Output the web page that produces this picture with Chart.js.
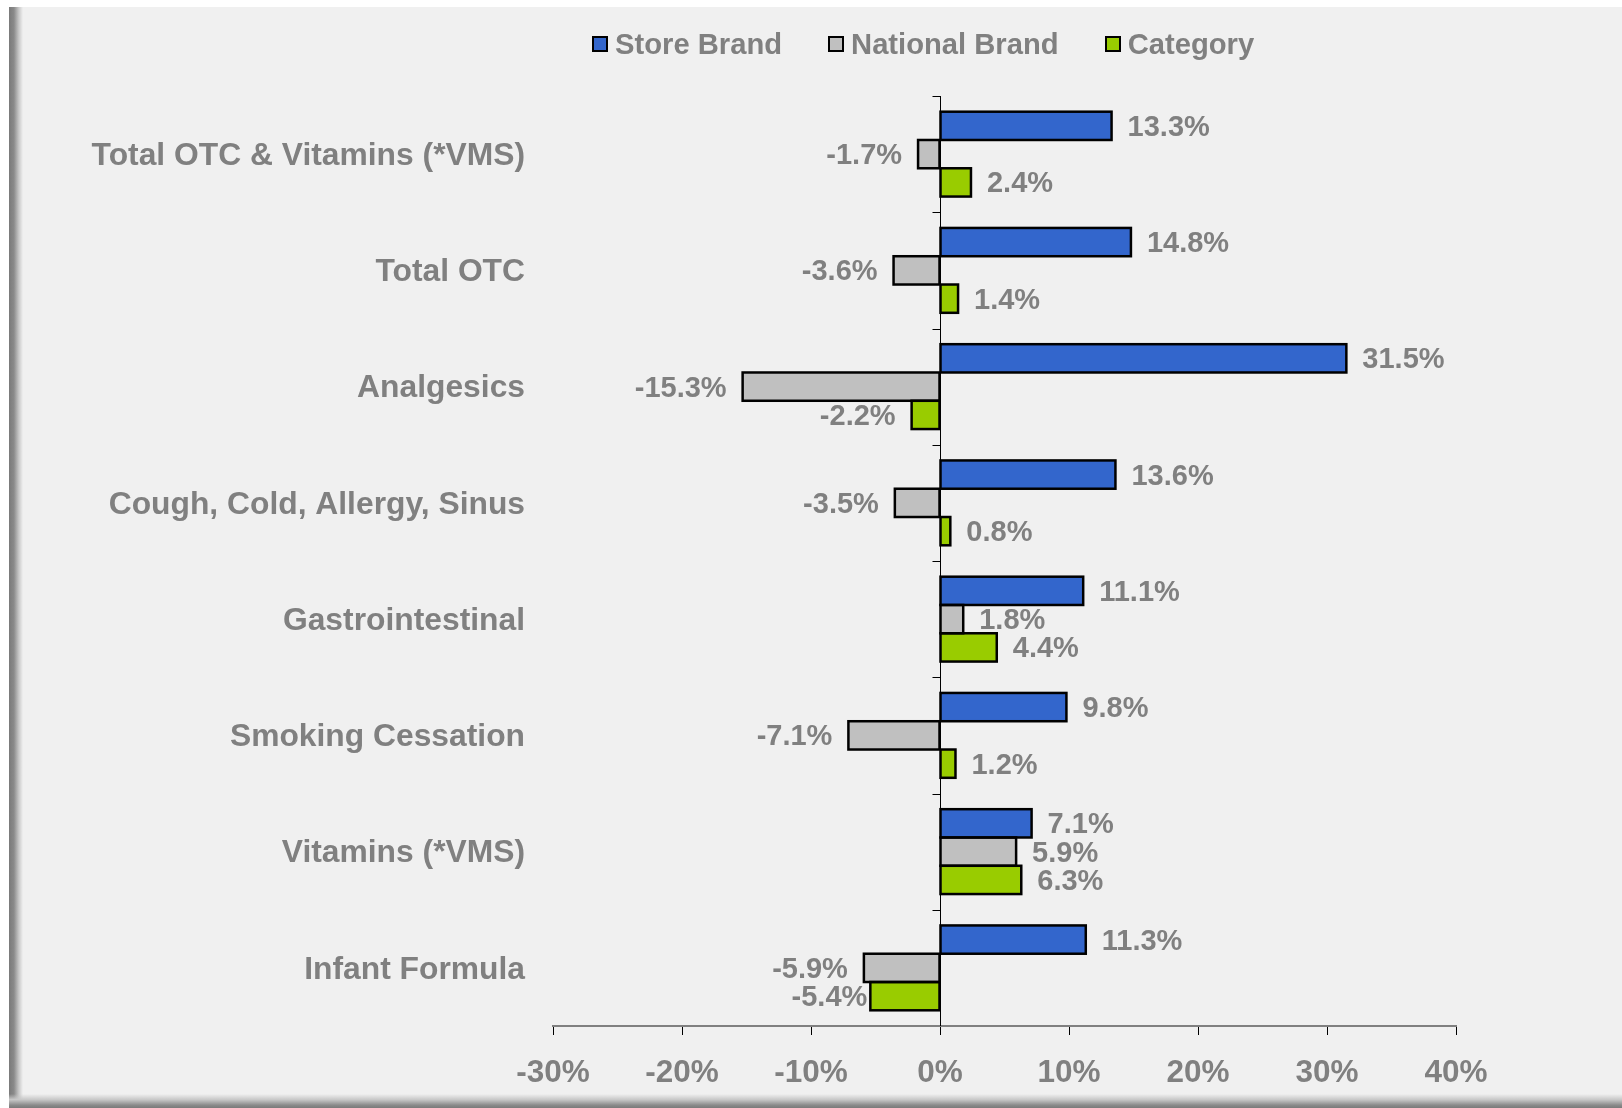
<!DOCTYPE html>
<html>
<head>
<meta charset="utf-8">
<script src="https://cdn.jsdelivr.net/npm/chart.js@4/dist/chart.umd.min.js"></script>
<style>
  html, body { margin: 0; padding: 0; background: #ffffff; }
  body { width: 1622px; height: 1108px; position: relative; overflow: hidden; font-family: "Liberation Sans", Arial, sans-serif; }
  #panel { position: absolute; left: 9px; top: 7px; width: 1613px; height: 1101px; background: #f0f0f0; }
  #shadeL { position: absolute; left: 9px; top: 7px; width: 14px; height: 1101px;
            background: linear-gradient(to right, #7a7a7a 0%, #8a8a8a 35%, #c8c8c8 70%, rgba(240,240,240,0) 100%); }
  #shadeB { position: absolute; left: 9px; top: 1094px; width: 1613px; height: 14px;
            background: linear-gradient(to bottom, rgba(240,240,240,0) 0%, #c8c8c8 40%, #8a8a8a 80%, #7a7a7a 100%); }
  #chart { position: absolute; left: 0; top: 0; }
  #legend { position: absolute; left: 592px; top: 27px; height: 34px; display: flex; align-items: center; gap: 46px;
            font-weight: bold; font-size: 29.2px; color: #808080; white-space: nowrap; }
  .item { display: flex; align-items: center; gap: 7px; }
  .box { width: 12px; height: 12px; border: 2px solid #000; }
</style>
</head>
<body>
<div id="panel"></div>
<div id="shadeL"></div>
<div id="shadeB"></div>
<canvas id="chart" width="1622" height="1108"></canvas>
<div id="legend"></div>
<script>
const categories = ["Total OTC & Vitamins (*VMS)", "Total OTC", "Analgesics", "Cough, Cold, Allergy, Sinus",
                    "Gastrointestinal", "Smoking Cessation", "Vitamins (*VMS)", "Infant Formula"];
const seriesNames = ["Store Brand", "National Brand", "Category"];
const storeBrand    = [13.3, 14.8, 31.5, 13.6, 11.1, 9.8, 7.1, 11.3];
const nationalBrand = [-1.7, -3.6, -15.3, -3.5, 1.8, -7.1, 5.9, -5.9];
const categoryVals  = [2.4, 1.4, -2.2, 0.8, 4.4, 1.2, 6.3, -5.4];
const xTicks = [-30, -20, -10, 0, 10, 20, 30, 40];
const colors = ["#3366CC", "#C0C0C0", "#99CC00"];

const TEXT = "#808080";
const FONT = "'Liberation Sans', Arial, sans-serif";

// HTML legend
const legendEl = document.getElementById('legend');
seriesNames.forEach((n, i) => {
  const it = document.createElement('div'); it.className = 'item';
  const b = document.createElement('div'); b.className = 'box'; b.style.background = colors[i];
  const t = document.createElement('span'); t.textContent = n;
  it.appendChild(b); it.appendChild(t); legendEl.appendChild(it);
});

// label nudges (dataset-index, data-index) -> px closer to bar
const labelNudge = { "2-7": 13 };

const axisPlugin = {
  id: 'zeroAxis',
  beforeDatasetsDraw(chart) {
    const ctx = chart.ctx, xs = chart.scales.x, ys = chart.scales.y, ca = chart.chartArea;
    const x0 = Math.round(xs.getPixelForValue(0)) + 0.5;
    ctx.save();
    ctx.strokeStyle = '#000'; ctx.lineWidth = 1;
    ctx.beginPath(); ctx.moveTo(x0, ca.top); ctx.lineTo(x0, ca.bottom); ctx.stroke();
    for (let i = 0; i < categories.length; i++) {
      const y = Math.round(ys.getPixelForValue(i - 0.5)) + 0.5;
      ctx.beginPath(); ctx.moveTo(x0 - 8, y); ctx.lineTo(x0, y); ctx.stroke();
    }
    // category labels
    ctx.font = "bold 31.8px " + FONT;
    ctx.fillStyle = TEXT;
    ctx.textAlign = 'right';
    ctx.textBaseline = 'middle';
    categories.forEach((c, i) => ctx.fillText(c, ca.left - 28, ys.getPixelForValue(i) + 2));
    ctx.restore();
  }
};

const labelPlugin = {
  id: 'valueLabels',
  afterDatasetsDraw(chart) {
    const ctx = chart.ctx;
    ctx.save();
    // bar outlines, centred on the bar edges (shared edges overlap like the original)
    ctx.strokeStyle = '#000';
    ctx.lineWidth = 2.5;
    chart.data.datasets.forEach((ds, di) => {
      chart.getDatasetMeta(di).data.forEach(el => {
        const l = Math.min(el.x, el.base), r = Math.max(el.x, el.base);
        ctx.strokeRect(l, el.y - el.height / 2, r - l, el.height);
      });
    });
    ctx.font = "bold 29px " + FONT;
    ctx.fillStyle = TEXT;
    ctx.textBaseline = 'middle';
    chart.data.datasets.forEach((ds, di) => {
      const meta = chart.getDatasetMeta(di);
      meta.data.forEach((el, i) => {
        const v = ds.data[i];
        const txt = v.toFixed(1) + '%';
        const off = 16 - (labelNudge[di + '-' + i] || 0);
        if (v >= 0) { ctx.textAlign = 'left'; ctx.fillText(txt, el.x + off, el.y + 2); }
        else { ctx.textAlign = 'right'; ctx.fillText(txt, el.x - off, el.y + 2); }
      });
    });
    ctx.restore();
  }
};

new Chart(document.getElementById('chart'), {
  type: 'bar',
  data: {
    labels: categories,
    datasets: [
      { label: seriesNames[0], data: storeBrand, backgroundColor: colors[0] },
      { label: seriesNames[1], data: nationalBrand, backgroundColor: colors[1] },
      { label: seriesNames[2], data: categoryVals, backgroundColor: colors[2] }
    ].map(d => Object.assign(d, { borderWidth: 0, inflateAmount: 0,
                                  categoryPercentage: 0.73, barPercentage: 1.0 }))
  },
  options: {
    indexAxis: 'y',
    responsive: false,
    animation: false,
    events: [],
    layout: { padding: { top: 96, right: 166, left: 0, bottom: 0 } },
    plugins: { legend: { display: false }, tooltip: { enabled: false } },
    scales: {
      x: {
        type: 'linear', min: -30, max: 40,
        afterBuildTicks(scale) { scale.ticks = xTicks.map(v => ({ value: v })); },
        afterFit(scale) { scale.height = 82; },
        grid: { drawOnChartArea: false, drawTicks: true, tickLength: 9, color: '#000', lineWidth: 1 },
        border: { display: true, color: '#808080', width: 2 },
        ticks: { padding: 19, color: TEXT, font: { family: FONT, size: 31.5, weight: 'bold' },
                 callback: v => v + '%', maxRotation: 0, autoSkip: false }
      },
      y: {
        afterFit(scale) { scale.width = 553; },
        grid: { display: false, drawTicks: false, tickLength: 0 },
        border: { display: false },
        ticks: { display: false }
      }
    }
  },
  plugins: [axisPlugin, labelPlugin]
});
</script>
</body>
</html>
